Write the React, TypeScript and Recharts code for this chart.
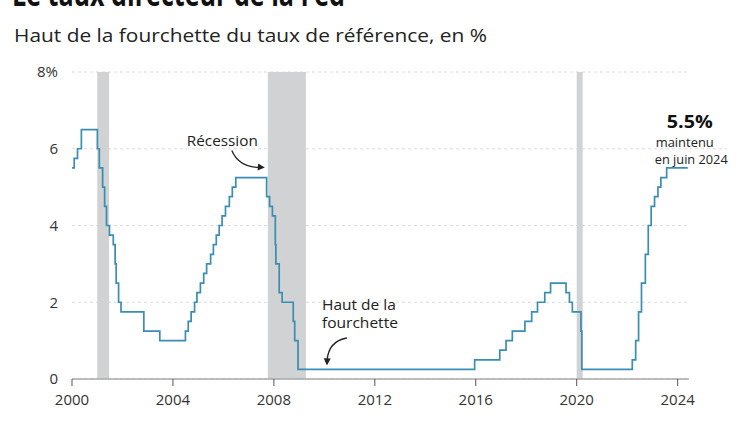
import React from "react";
import {
  ComposedChart,
  Line,
  XAxis,
  YAxis,
  CartesianGrid,
  ReferenceArea,
  ReferenceDot,
  ReferenceLine,
} from "recharts";

// Fed funds target, upper bound (%), change dates
const changeDates = [
  "2000-01-01", "2000-02-02", "2000-03-21", "2000-05-16",
  "2001-01-03", "2001-01-31", "2001-03-20", "2001-04-18", "2001-05-15",
  "2001-06-27", "2001-08-21", "2001-09-17", "2001-10-02", "2001-11-06",
  "2001-12-11", "2002-11-06", "2003-06-25",
  "2004-06-30", "2004-08-10", "2004-09-21", "2004-11-10", "2004-12-14",
  "2005-02-02", "2005-03-22", "2005-05-03", "2005-06-30", "2005-08-09",
  "2005-09-20", "2005-11-01", "2005-12-13", "2006-01-31", "2006-03-28",
  "2006-05-10", "2006-06-29",
  "2007-09-18", "2007-10-31", "2007-12-11", "2008-01-22", "2008-01-30",
  "2008-03-18", "2008-04-30", "2008-10-08", "2008-10-29", "2008-12-16",
  "2015-12-16", "2016-12-14", "2017-03-15", "2017-06-14", "2017-12-13",
  "2018-03-21", "2018-06-13", "2018-09-26", "2018-12-19",
  "2019-07-31", "2019-09-18", "2019-10-30", "2020-03-03", "2020-03-15",
  "2022-03-16", "2022-05-04", "2022-06-15", "2022-07-27", "2022-09-21",
  "2022-11-02", "2022-12-14", "2023-02-01", "2023-03-22", "2023-05-03",
  "2023-07-26", "2024-05-27",
];
const rateValues = [
  5.5, 5.75, 6.0, 6.5,
  6.0, 5.5, 5.0, 4.5, 4.0,
  3.75, 3.5, 3.0, 2.5, 2.0,
  1.75, 1.25, 1.0,
  1.25, 1.5, 1.75, 2.0, 2.25,
  2.5, 2.75, 3.0, 3.25, 3.5,
  3.75, 4.0, 4.25, 4.5, 4.75,
  5.0, 5.25,
  4.75, 4.5, 4.25, 3.5, 3.0,
  2.25, 2.0, 1.5, 1.0, 0.25,
  0.5, 0.75, 1.0, 1.25, 1.5,
  1.75, 2.0, 2.25, 2.5,
  2.25, 2.0, 1.75, 1.25, 0.25,
  0.5, 1.0, 1.75, 2.5, 3.25,
  4.0, 4.5, 4.75, 5.0, 5.25,
  5.5, 5.5,
];

const recessionStarts = [2001.0, 2007.76, 2020.0];
const recessionEnds = [2001.47, 2009.27, 2020.24];

const xTicks = [2000, 2004, 2008, 2012, 2016, 2020, 2024];
const yTicks = [0, 2, 4, 6, 8];
const yTickLabels = ["0", "2", "4", "6", "8%"];

const titleText = "Le taux directeur de la Fed";
const subtitleText = "Haut de la fourchette du taux de référence, en %";

const toYear = (s: string) => {
  const [y, m, d] = s.split("-").map(Number);
  const start = Date.UTC(y, 0, 1);
  const end = Date.UTC(y + 1, 0, 1);
  return y + (Date.UTC(y, m - 1, d) - start) / (end - start);
};

const data = changeDates.map((d, i) => ({ t: toYear(d), rate: rateValues[i] }));

const FONT = "'Open Sans', 'DejaVu Sans', sans-serif";
const LINE = "#3a8db3";

const Arrowhead = ({ x, y, angle }: { x: number; y: number; angle: number }) => (
  <polygon
    points="0,0 -7,-3.5 -7,3.5"
    fill="#222"
    transform={`translate(${x},${y}) rotate(${angle})`}
  />
);

const RecessionLabel = (props: any) => {
  const { cx, cy } = props;
  return (
    <g>
      <text
        x={cx - 44.5}
        y={cy - 32}
        textAnchor="middle"
        fontFamily={FONT}
        fontSize={15}
        fill="#222"
        textLength={71}
        lengthAdjust="spacingAndGlyphs"
      >
        Récession
      </text>
      <path
        d={`M${cx - 35},${cy - 27} Q${cx - 28},${cy - 10} ${cx - 6},${cy - 10}`}
        fill="none"
        stroke="#222"
        strokeWidth={1.3}
      />
      <Arrowhead x={cx - 2} y={cy - 10} angle={5} />
    </g>
  );
};

const HautLabel = (props: any) => {
  const { cx, cy } = props;
  return (
    <g>
      <text
        x={cx - 2.4}
        y={cy - 59}
        fontFamily={FONT}
        fontSize={14}
        fill="#222"
        textLength={74}
        lengthAdjust="spacingAndGlyphs"
      >
        Haut de la
      </text>
      <text
        x={cx - 2.4}
        y={cy - 41}
        fontFamily={FONT}
        fontSize={14}
        fill="#222"
        textLength={76}
        lengthAdjust="spacingAndGlyphs"
      >
        fourchette
      </text>
      <path
        d={`M${cx + 22.6},${cy - 31.4} Q${cx + 4},${cy - 28} ${cx + 2.8},${cy - 9}`}
        fill="none"
        stroke="#222"
        strokeWidth={1.3}
      />
      <Arrowhead x={cx + 2.6} y={cy - 4} angle={92} />
    </g>
  );
};

const EndLabel = (props: any) => {
  const { cx, cy } = props;
  return (
    <g>
      <text
        x={cx + 2}
        y={cy - 40}
        textAnchor="middle"
        fontFamily={FONT}
        fontWeight={700}
        fontSize={18}
        fill="#111"
        textLength={46}
        lengthAdjust="spacingAndGlyphs"
      >
        5.5%
      </text>
      <text
        x={cx - 32}
        y={cy - 21}
        fontFamily={FONT}
        fontSize={13.5}
        fill="#222"
        textLength={58}
        lengthAdjust="spacingAndGlyphs"
      >
        maintenu
      </text>
      <text
        x={cx - 33}
        y={cy - 4}
        fontFamily={FONT}
        fontSize={13.5}
        fill="#222"
        textLength={73}
        lengthAdjust="spacingAndGlyphs"
      >
        en juin 2024
      </text>
    </g>
  );
};

const YTick = (props: any) => {
  const { x, y, payload } = props;
  const idx = yTicks.indexOf(payload.value);
  return (
    <text
      x={x}
      y={y}
      dy="0.36em"
      textAnchor="end"
      fontFamily={FONT}
      fontSize={15}
      fill="#333"
    >
      {yTickLabels[idx]}
    </text>
  );
};

export default function App() {
  return (
    <div
      style={{
        position: "absolute",
        left: 0,
        top: 0,
        width: 749,
        height: 421,
        background: "#fff",
        overflow: "hidden",
      }}
    >
      <svg
        width={749}
        height={60}
        style={{ position: "absolute", left: 0, top: 0 }}
      >
        <text
          x={12}
          y={6}
          fontFamily={FONT}
          fontWeight={700}
          fontSize={34}
          fill="#111"
          textLength={333}
          lengthAdjust="spacingAndGlyphs"
        >
          {titleText}
        </text>
        <text
          x={14}
          y={42}
          fontFamily={FONT}
          fontSize={18.5}
          fill="#222"
          textLength={473}
          lengthAdjust="spacingAndGlyphs"
        >
          {subtitleText}
        </text>
      </svg>
      <div style={{ position: "absolute", left: 0, top: 0 }}>
        <ComposedChart
          width={749}
          height={421}
          data={data}
          margin={{ top: 72, right: 60, bottom: 12, left: 0 }}
        >
          <CartesianGrid
            vertical={false}
            stroke="#dcdcdc"
            strokeDasharray="3 3"
          />
          {recessionStarts.map((s, i) => (
            <ReferenceArea
              key={i}
              x1={s}
              x2={recessionEnds[i]}
              y1={0}
              y2={8}
              fill="#d1d2d4"
              fillOpacity={1}
              stroke="none"
              ifOverflow="visible"
            />
          ))}
          <ReferenceLine
            segment={[
              { x: 2024.45, y: 6 },
              { x: 2025.95, y: 6 },
            ]}
            stroke="#dcdcdc"
            strokeDasharray="3 3"
            ifOverflow="visible"
          />
          <XAxis
            dataKey="t"
            type="number"
            domain={[2000, 2024.45]}
            ticks={xTicks}
            allowDataOverflow
            height={30}
            axisLine={{ stroke: "#a8a8a8", strokeWidth: 1.5 }}
            tickLine={{ stroke: "#555" }}
            tickSize={7}
            tickMargin={8}
            tick={{ fontFamily: FONT, fontSize: 15, fill: "#333" }}
          />
          <YAxis
            type="number"
            domain={[0, 8]}
            ticks={yTicks}
            width={72}
            axisLine={false}
            tickLine={false}
            tickSize={0}
            tickMargin={14}
            tick={<YTick />}
          />
          <Line
            type="stepAfter"
            dataKey="rate"
            stroke={LINE}
            strokeWidth={1.7}
            dot={false}
            isAnimationActive={false}
          />
          <ReferenceDot
            x={2007.72}
            y={5.25}
            r={0}
            ifOverflow="visible"
            shape={<RecessionLabel />}
          />
          <ReferenceDot
            x={2010}
            y={0.25}
            r={0}
            ifOverflow="visible"
            shape={<HautLabel />}
          />
          <ReferenceDot
            x={2024.4}
            y={5.5}
            r={0}
            ifOverflow="visible"
            shape={<EndLabel />}
          />
        </ComposedChart>
      </div>
    </div>
  );
}
